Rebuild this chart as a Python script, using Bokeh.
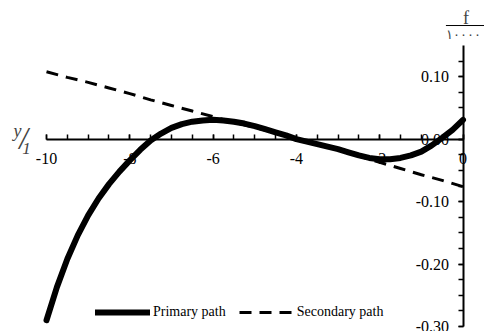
from bokeh.plotting import figure
from bokeh.models import (Range1d, LinearAxis, SingleIntervalTicker, NumeralTickFormatter,
                          Label, Arrow)
from bokeh.embed import file_html
from bokeh.resources import INLINE

# ---- data ----
x_primary = [-10, -9.75, -9.5, -9.25, -9.0, -8.75, -8.5, -8.25, -8.0, -7.75, -7.5, -7.25,
             -7.0, -6.75, -6.5, -6.25, -6.0, -5.75, -5.5, -5.25, -5.0, -4.75, -4.5, -4.25,
             -4.0, -3.75, -3.5, -3.25, -3.0, -2.75, -2.5, -2.25, -2.0, -1.75, -1.5, -1.25,
             -1.0, -0.75, -0.5, -0.25, 0.0]
y_primary = [-0.290, -0.237, -0.192, -0.154, -0.122, -0.095, -0.072, -0.052, -0.034, -0.017,
             -0.002, 0.009, 0.018, 0.024, 0.028, 0.030, 0.031, 0.030, 0.028, 0.025, 0.021,
             0.016, 0.011, 0.006, 0.000, -0.004, -0.008, -0.012, -0.016, -0.021, -0.026,
             -0.030, -0.032, -0.032, -0.030, -0.026, -0.020, -0.010, 0.002, 0.015, 0.031]

x_secondary = [-10, -9.5, -9, -8.5, -8, -7.5, -7, -6.5, -6, -5.5, -5, -4.5, -4, -3.5, -3,
               -2.5, -2, -1.5, -1, -0.5, 0]
y_secondary = [0.108, 0.099, 0.091, 0.082, 0.073, 0.063, 0.054, 0.045, 0.036, 0.027, 0.019,
               0.010, 0.001, -0.008, -0.017, -0.027, -0.037, -0.047, -0.057, -0.066, -0.076]

series_names = ["Primary path", "Secondary path"]
x_label_parts = ["y", "/", "1"]
y_label_parts = ["f", "۱۰۰۰۰"]

x_bounds = (-10, 0)
y_bounds = (-0.30, 0.15)

FONT = "Liberation Serif"

# frame covers the whole canvas; the axis extent is limited with bounds
W, H = 484, 331
left_px, right_px, top_px, bottom_px = 46, 462.5, 45, 326
xs = (x_bounds[1] - x_bounds[0]) / (right_px - left_px)
ys = (y_bounds[1] - y_bounds[0]) / (bottom_px - top_px)
x_rng = Range1d(x_bounds[0] - left_px * xs, x_bounds[1] + (W - right_px) * xs)
y_rng = Range1d(y_bounds[0] - (H - bottom_px) * ys, y_bounds[1] + top_px * ys)

p = figure(width=W, height=H, x_range=x_rng, y_range=y_rng,
           output_backend="svg", toolbar_location=None,
           x_axis_location=None, y_axis_location=None, min_border=0)
p.outline_line_color = None
p.grid.visible = False
p.background_fill_color = "white"
p.border_fill_color = "white"

# x axis crossing at y = 0
xaxis = LinearAxis(fixed_location=0, bounds=x_bounds,
                   ticker=SingleIntervalTicker(interval=2, num_minor_ticks=4),
                   formatter=NumeralTickFormatter(format="0"))
xaxis.axis_line_width = 2
xaxis.major_tick_in = 5
xaxis.major_tick_out = 0
xaxis.minor_tick_in = 5
xaxis.minor_tick_out = 0
xaxis.major_tick_line_width = 1.5
xaxis.minor_tick_line_width = 1.5
xaxis.major_label_standoff = 14
xaxis.major_label_text_font = FONT
xaxis.major_label_text_font_size = "16px"
xaxis.major_label_text_color = "black"
p.add_layout(xaxis, "below")

# y axis crossing at x = 0 (bounds padded slightly so the -0.30 tick survives rounding)
yaxis = LinearAxis(fixed_location=0, bounds=(y_bounds[0] - 0.0005, y_bounds[1]),
                   ticker=SingleIntervalTicker(interval=0.1, num_minor_ticks=4),
                   formatter=NumeralTickFormatter(format="0.00"))
yaxis.axis_line_width = 2
yaxis.major_tick_in = 0
yaxis.major_tick_out = 5
yaxis.minor_tick_in = 0
yaxis.minor_tick_out = 5
yaxis.major_tick_line_width = 1.5
yaxis.minor_tick_line_width = 1.5
yaxis.major_label_standoff = 9
yaxis.major_label_text_font = FONT
yaxis.major_label_text_font_size = "16px"
yaxis.major_label_text_color = "black"
p.add_layout(yaxis, "left")

# series
p.line(x_secondary, y_secondary, line_color="black", line_width=3, line_dash="12 8",
       legend_label=series_names[1])
p.line(x_primary, y_primary, line_color="black", line_width=6, line_cap="round",
       legend_label=series_names[0])

leg = p.legend[0]
leg.items = [leg.items[1], leg.items[0]]
leg.orientation = "horizontal"
leg.location = (95, H - 322)
leg.padding = 0
leg.margin = 0
leg.spacing = 13
leg.glyph_width = 55
leg.glyph_height = 20
leg.label_height = 20
leg.label_standoff = 3
leg.border_line_alpha = 0
leg.background_fill_alpha = 0
leg.label_text_font = FONT
leg.label_text_font_size = "14px"
leg.label_text_color = "black"

# axis titles
p.add_layout(Label(x=-10, y=0, x_offset=-29, y_offset=8, text=x_label_parts[0],
                   text_font=FONT, text_font_style="italic", text_font_size="18px",
                   text_align="center", text_baseline="middle"))
p.add_layout(Label(x=-10, y=0, x_offset=-23, y_offset=1, text=x_label_parts[1],
                   text_font=FONT, text_font_style="italic", text_font_size="31px",
                   text_align="center", text_baseline="middle"))
p.add_layout(Label(x=-10, y=0, x_offset=-20, y_offset=-9, text=x_label_parts[2],
                   text_font=FONT, text_font_style="italic", text_font_size="17px",
                   text_align="center", text_baseline="middle"))

p.add_layout(Label(x=0, y=0.15, x_offset=3, y_offset=28, text=y_label_parts[0],
                   text_font=FONT, text_font_size="18px",
                   text_align="center", text_baseline="middle"))
p.add_layout(Label(x=0, y=0.15, x_offset=-17, y_offset=11, text=y_label_parts[1],
                   text_font="DejaVu Sans", text_font_size="13px",
                   text_align="left", text_baseline="middle"))
p.add_layout(Arrow(start=None, end=None, x_start=-0.41, y_start=0.182, x_end=0.55, y_end=0.182,
                   line_color="black", line_width=1))

open("out.html", "w").write(file_html(p, INLINE))
